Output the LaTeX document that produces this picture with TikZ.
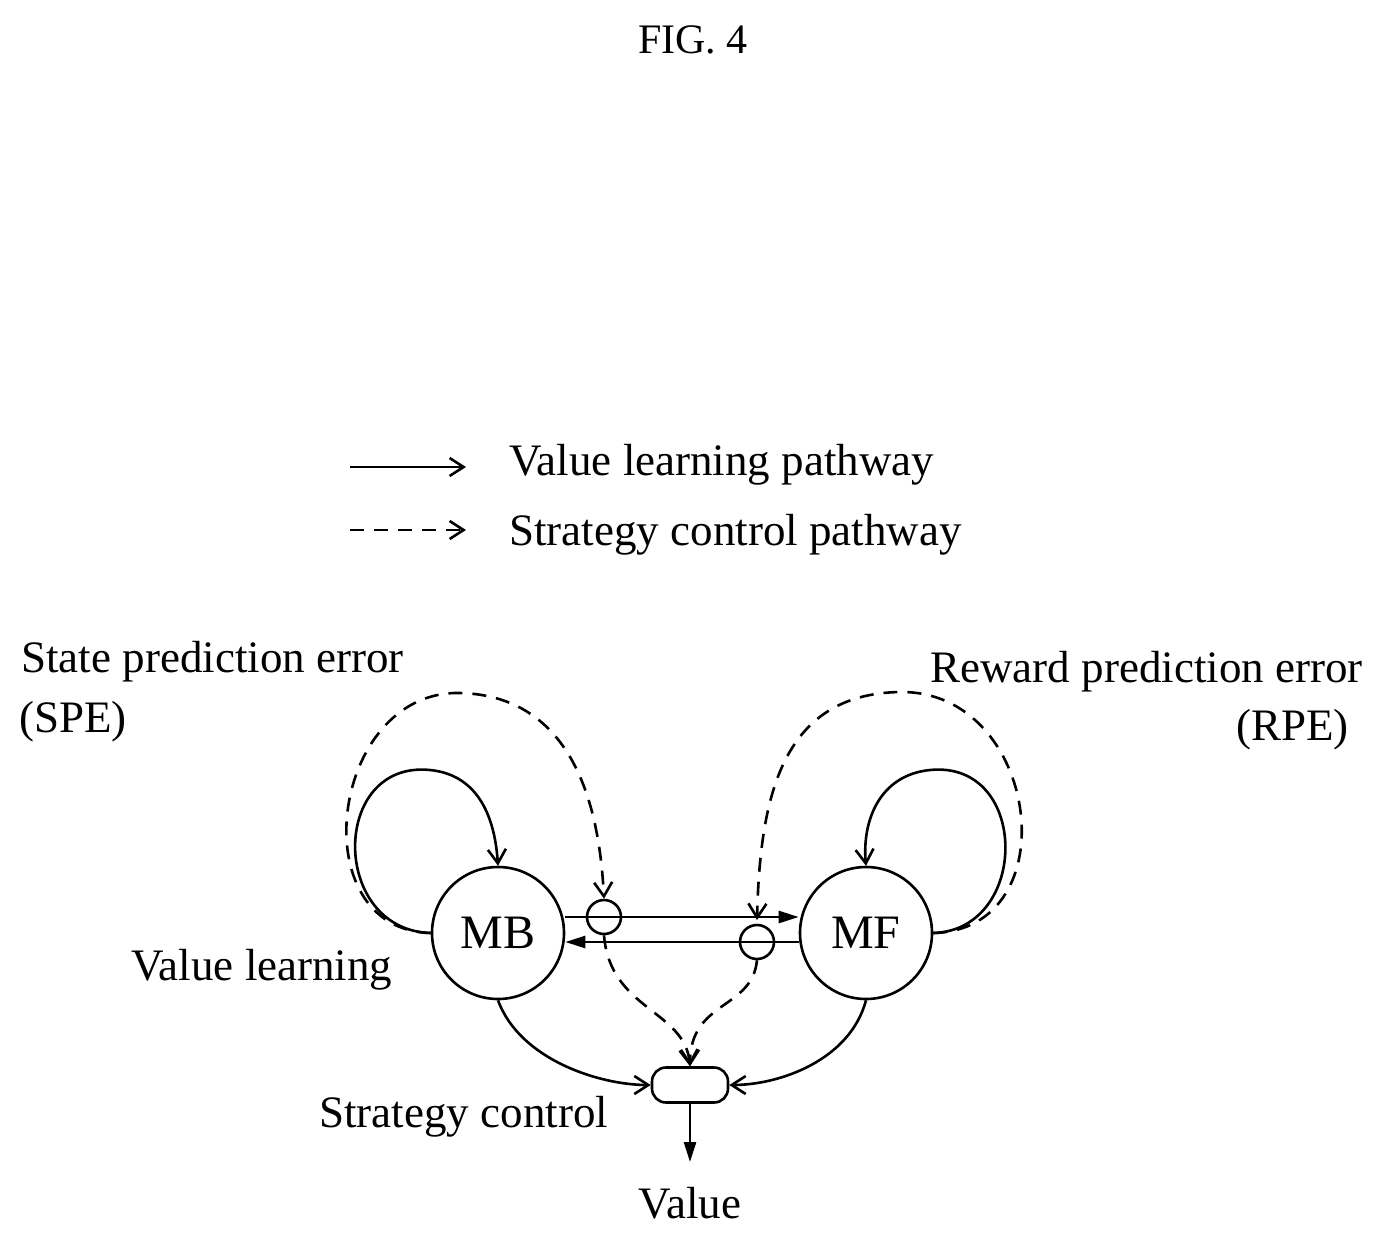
\documentclass[tikz,border=0pt]{standalone}
\usepackage{fontspec}
\setmainfont{Liberation Serif}
\usetikzlibrary{arrows.meta}
\begin{document}
\begin{tikzpicture}[x=0.5pt,y=-0.5pt,line width=1.3pt,
  txt/.style={font=\fontsize{22.5}{26}\selectfont, inner sep=0pt},
  big/.style={draw,circle,minimum size=66pt,inner sep=0pt,font=\fontsize{24}{26}\selectfont},
  small/.style={draw,circle,minimum size=17pt,inner sep=0pt},
  open/.style={-{Straight Barb[length=7pt,width=9pt]}},
  solid tip/.style={-{Triangle[length=10pt,width=6pt]}},
  dsh/.style={dash pattern=on 7pt off 5pt}]
\useasboundingbox (0,0) rectangle (1386,1242);
\node[txt,font=\fontsize{21}{24}\selectfont] (fig) at (693,40) {FIG. 4};
% legend
\coordinate (l1a) at (350,467); \coordinate (l1b) at (466,467);
\coordinate (l2a) at (350,530); \coordinate (l2b) at (466,530);
\draw[open] (l1a) -- (l1b);
\draw[open,dsh] (l2a) -- (l2b);
\node[txt,anchor=west] (lt1) at (508,465) {Value learning pathway};
\node[txt,anchor=west] (lt2) at (508,535) {Strategy control pathway};
% nodes
\node[big] (MB) at (498,933) {MB};
\node[big] (MF) at (866,933) {MF};
\node[small] (c1) at (604,917) {};
\node[small] (c2) at (757,942) {};
\node[draw,rounded corners=7pt,minimum width=38pt,minimum height=17.5pt,inner sep=0pt] (box) at (690,1085) {};
\coordinate (val) at (690,1162);
\node[txt] (valt) at (690,1203) {Value};
% labels
\node[txt,anchor=west] (spe1) at (20,662) {State prediction error};
\node[txt,anchor=west] (spe2) at (18,722) {(SPE)};
\node[txt,anchor=east] (rpe1) at (1364,672) {Reward prediction error};
\node[txt,anchor=east] (rpe2) at (1350,730) {(RPE)};
\node[txt,anchor=west] (vl) at (130,970) {Value learning};
\node[txt,anchor=west] (sc) at (318,1117) {Strategy control};
% horizontal
\draw[solid tip] (MB.east |- 0,917) -- (MF.west |- 0,917);
\draw[solid tip] (MF.west |- 0,942) -- (MB.east |- 0,942);
% self loops
\draw[open] (MB.west) .. controls (330,930) and (330,760) .. (430,770) .. controls (480,775) and (495,820) .. (MB.north);
\draw[open] (MF.east) .. controls (1030,930) and (1030,760) .. (930,770) .. controls (880,775) and (862,820) .. (MF.north);
\draw[open,dsh] (MB.west) .. controls (300,930) and (330,690) .. (460,693) .. controls (580,696) and (600,820) .. (c1.north);
\draw[open,dsh] (MF.east) .. controls (1070,930) and (1040,690) .. (900,692) .. controls (780,694) and (760,800) .. (c2.north |- 0,920);
% to box
\draw[open] (MB.south) .. controls (520,1060) and (600,1085) .. (box.west);
\draw[open] (MF.south) .. controls (850,1060) and (780,1085) .. (box.east);
\draw[open,dsh] (c1.south) .. controls (610,1010) and (685,1010) .. (box.north);
\draw[open,dsh] (c2.south) .. controls (752,1010) and (690,1000) .. (box.north);
\draw[solid tip] (box.south) -- (val);
\end{tikzpicture}
\end{document}
